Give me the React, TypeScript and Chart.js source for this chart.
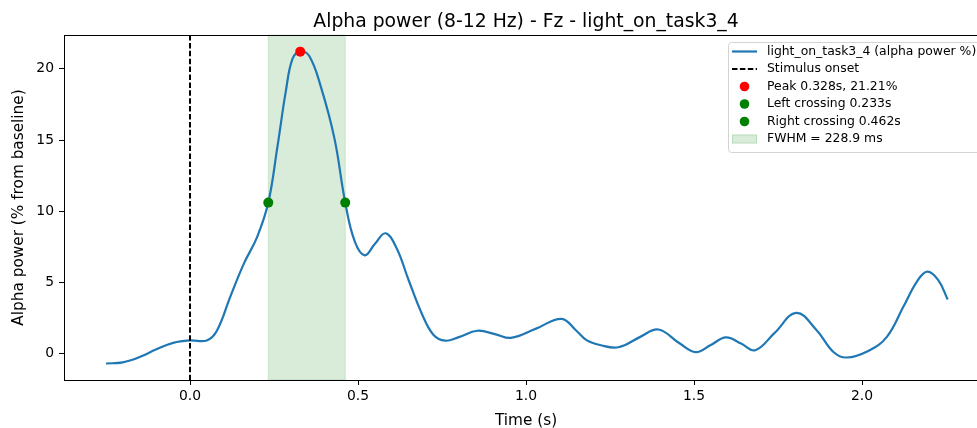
import { useEffect, useRef } from "react";
import { Chart, registerables } from "chart.js";

Chart.register(...registerables);

// Alpha power time course (% change from baseline), Fz, light_on_task3_4
const times = [
  -0.25, -0.2, -0.15, -0.1, -0.05, 0.0, 0.05, 0.08, 0.12, 0.16, 0.2, 0.233,
  0.26, 0.285, 0.305, 0.328, 0.355, 0.39, 0.43, 0.462, 0.49, 0.52, 0.55,
  0.582, 0.615, 0.65, 0.69, 0.725, 0.76, 0.8, 0.855, 0.91, 0.955, 1.03,
  1.106, 1.15, 1.18, 1.22, 1.275, 1.34, 1.394, 1.458, 1.505, 1.55, 1.595,
  1.64, 1.682, 1.74, 1.804, 1.865, 1.915, 1.954, 2.02, 2.074, 2.123, 2.163,
  2.194, 2.227, 2.255,
];
const alphaPower = [
  -0.7, -0.62, -0.25, 0.3, 0.75, 0.92, 0.92, 1.6, 4.0, 6.3, 8.2, 10.605,
  14.5, 18.4, 20.7, 21.21, 20.9, 18.7, 15.1, 10.605, 7.9, 6.9, 7.7, 8.45,
  7.4, 5.2, 2.8, 1.3, 0.9, 1.15, 1.6, 1.35, 1.1, 1.75, 2.44, 1.6, 0.94, 0.6,
  0.44, 1.17, 1.69, 0.7, 0.1, 0.6, 1.13, 0.7, 0.23, 1.45, 2.86, 1.64, 0.11,
  -0.28, 0.2, 1.17, 3.28, 5.04, 5.75, 5.16, 3.8,
];

const stimulusOnset = 0.0;
const peakTime = 0.328;
const peakValue = 21.21;
const leftCrossing = 0.233;
const rightCrossing = 0.462;
const halfMax = peakValue / 2;
const fwhmMs = 228.9;

const xTicks = [0.0, 0.5, 1.0, 1.5, 2.0];
const yTicks = [0, 5, 10, 15, 20];
const xRange = [-0.375, 2.375];
const yRange = [-1.86, 22.38];

const titleText = "Alpha power (8-12 Hz) - Fz - light_on_task3_4";
const xLabel = "Time (s)";
const yLabel = "Alpha power (% from baseline)";
const legendLabels = [
  "light_on_task3_4 (alpha power %)",
  "Stimulus onset",
  `Peak ${peakTime.toFixed(3)}s, ${peakValue.toFixed(2)}%`,
  `Left crossing ${leftCrossing.toFixed(3)}s`,
  `Right crossing ${rightCrossing.toFixed(3)}s`,
  `FWHM = ${fwhmMs.toFixed(1)} ms`,
];

const FONT = "'DejaVu Sans', 'Liberation Sans', sans-serif";
const LINE_BLUE = "#1f77b4";
const SPAN_FILL = "rgba(0,128,0,0.15)";

const overlayPlugin = {
  id: "overlay",
  beforeDatasetsDraw(chart: any) {
    const { ctx, chartArea, scales } = chart;
    const x0 = scales.x.getPixelForValue(leftCrossing);
    const x1 = scales.x.getPixelForValue(rightCrossing);
    ctx.save();
    ctx.fillStyle = SPAN_FILL;
    ctx.fillRect(x0, chartArea.top, x1 - x0, chartArea.bottom - chartArea.top);
    ctx.strokeStyle = SPAN_FILL;
    ctx.lineWidth = 1;
    ctx.strokeRect(x0, chartArea.top, x1 - x0, chartArea.bottom - chartArea.top);
    ctx.restore();
  },
  afterDatasetsDraw(chart: any) {
    const { ctx, chartArea, scales } = chart;
    const xs = Math.round(scales.x.getPixelForValue(stimulusOnset));
    ctx.save();
    ctx.strokeStyle = "#000";
    ctx.lineWidth = 2;
    ctx.setLineDash([5.5, 2.4]);
    ctx.beginPath();
    ctx.moveTo(xs, chartArea.top);
    ctx.lineTo(xs, chartArea.bottom);
    ctx.stroke();
    ctx.restore();
  },
  afterDraw(chart: any) {
    const { ctx, chartArea } = chart;
    ctx.save();
    // axes frame
    ctx.strokeStyle = "#000";
    ctx.lineWidth = 1;
    ctx.strokeRect(chartArea.left + 0.5, chartArea.top + 0.5, chartArea.right - chartArea.left, chartArea.bottom - chartArea.top);

    const cx = (chartArea.left + chartArea.right) / 2;
    ctx.fillStyle = "#000";
    ctx.textAlign = "center";
    ctx.textBaseline = "alphabetic";
    ctx.font = `18.8px ${FONT}`;
    ctx.fillText(titleText, cx, 26.5);

    ctx.font = `15.3px ${FONT}`;
    ctx.fillText(xLabel, cx, 425);

    ctx.save();
    ctx.translate(19, (chartArea.top + chartArea.bottom) / 2);
    ctx.rotate(-Math.PI / 2);
    ctx.textBaseline = "middle";
    ctx.fillText(yLabel, 0, 0);
    ctx.restore();

    // legend
    const lx = 728;
    const ly = 42;
    const lw = 256;
    const lh = 110;
    ctx.fillStyle = "rgba(255,255,255,0.8)";
    ctx.strokeStyle = "#d3d3d3";
    ctx.lineWidth = 1;
    ctx.beginPath();
    ctx.roundRect(lx + 0.5, ly + 0.5, lw, lh, 3);
    ctx.fill();
    ctx.stroke();

    const rowY = (i: number) => 51.5 + i * 17.5;
    const hx0 = 732;
    const hx1 = 757;
    const hcx = (hx0 + hx1) / 2;

    // series line
    ctx.strokeStyle = LINE_BLUE;
    ctx.lineWidth = 2.2;
    ctx.beginPath();
    ctx.moveTo(hx0, rowY(0));
    ctx.lineTo(hx1, rowY(0));
    ctx.stroke();
    // dashed onset
    ctx.strokeStyle = "#000";
    ctx.lineWidth = 2;
    ctx.setLineDash([5.5, 2.4]);
    ctx.beginPath();
    ctx.moveTo(hx0, rowY(1));
    ctx.lineTo(hx1, rowY(1));
    ctx.stroke();
    ctx.setLineDash([]);
    // markers
    const dot = (y: number, c: string) => {
      ctx.fillStyle = c;
      ctx.beginPath();
      ctx.arc(hcx, y, 4.8, 0, Math.PI * 2);
      ctx.fill();
    };
    dot(rowY(2), "red");
    dot(rowY(3), "green");
    dot(rowY(4), "green");
    // span patch
    ctx.fillStyle = SPAN_FILL;
    ctx.fillRect(hx0, rowY(5) - 4.5, hx1 - hx0, 9);
    ctx.strokeStyle = SPAN_FILL;
    ctx.lineWidth = 1;
    ctx.strokeRect(hx0 + 0.5, rowY(5) - 4, hx1 - hx0 - 1, 8);

    ctx.fillStyle = "#000";
    ctx.font = `12.4px ${FONT}`;
    ctx.textAlign = "left";
    ctx.textBaseline = "middle";
    legendLabels.forEach((t, i) => ctx.fillText(t, 767, rowY(i)));
    ctx.restore();
  },
};

export default function App() {
  const canvasRef = useRef<HTMLCanvasElement | null>(null);

  useEffect(() => {
    if (!canvasRef.current) return;
    const series = times.map((t, i) => ({ x: t, y: alphaPower[i] }));
    const marker = (x: number, y: number, color: string, label: string) => ({
      label,
      data: [{ x, y }],
      showLine: false,
      pointRadius: 5,
      pointBackgroundColor: color,
      pointBorderWidth: 0,
      order: 1,
    });
    const chart = new Chart(canvasRef.current, {
      type: "line",
      data: {
        datasets: [
          marker(peakTime, peakValue, "red", legendLabels[2]),
          marker(leftCrossing, halfMax, "green", legendLabels[3]),
          marker(rightCrossing, halfMax, "green", legendLabels[4]),
          {
            label: legendLabels[0],
            data: series,
            borderColor: LINE_BLUE,
            borderWidth: 2.2,
            pointRadius: 0,
            fill: false,
            tension: 0.4,
            order: 2,
          },
        ],
      },
      options: {
        responsive: false,
        devicePixelRatio: 1,
        animation: false,
        events: [],
        layout: { padding: { left: 0, top: 35, right: 12, bottom: 0 } },
        plugins: {
          legend: { display: false },
          title: { display: false },
          tooltip: { enabled: false },
        },
        scales: {
          x: {
            type: "linear",
            min: xRange[0],
            max: xRange[1],
            afterBuildTicks: (s: any) => {
              s.ticks = xTicks.map((v) => ({ value: v }));
            },
            afterFit: (s: any) => {
              s.height = 48;
            },
            ticks: {
              callback: (v: any) => Number(v).toFixed(1),
              font: { family: FONT, size: 13.9 },
              color: "#000",
              padding: 3,
              maxRotation: 0,
            },
            grid: { drawOnChartArea: false, drawTicks: true, tickLength: 5, color: "#000", lineWidth: 1 },
            border: { display: true, color: "#000", width: 1 },
          },
          y: {
            type: "linear",
            min: yRange[0],
            max: yRange[1],
            afterBuildTicks: (s: any) => {
              s.ticks = yTicks.map((v) => ({ value: v }));
            },
            afterFit: (s: any) => {
              s.width = 64;
            },
            ticks: {
              callback: (v: any) => String(v),
              font: { family: FONT, size: 13.9 },
              color: "#000",
              padding: 5,
            },
            grid: { drawOnChartArea: false, drawTicks: true, tickLength: 5, color: "#000", lineWidth: 1 },
            border: { display: true, color: "#000", width: 1 },
          },
        },
      },
      plugins: [overlayPlugin],
    });
    return () => chart.destroy();
  }, []);

  return (
    <div style={{ position: "fixed", left: 0, top: 0, width: 1000, height: 428, background: "#fff" }}>
      <canvas ref={canvasRef} width={1000} height={428} style={{ display: "block" }} />
    </div>
  );
}
